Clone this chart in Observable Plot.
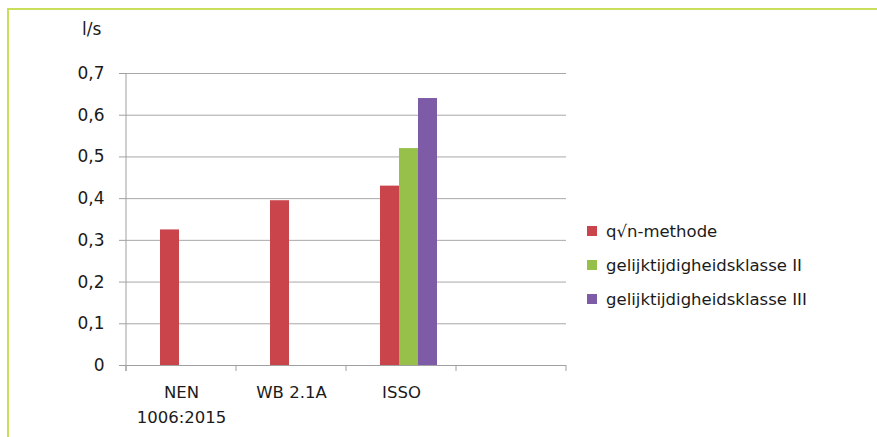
<!DOCTYPE html>
<html><head><meta charset="utf-8">
<script src="https://cdn.jsdelivr.net/npm/d3@7"></script>
<script src="https://cdn.jsdelivr.net/npm/@observablehq/plot@0.6"></script>
<style>
body{margin:0;background:#fff;}
#wrap{position:relative;width:877px;height:437px;overflow:hidden;font-family:"DejaVu Sans",sans-serif;color:#1a1a1a;}
#border{position:absolute;left:7px;top:8px;width:900px;height:500px;border-top:2px solid #c9de5a;border-left:2px solid #c9de5a;}
#chart{position:absolute;left:0;top:0;}
#unit{position:absolute;left:82px;top:19px;font-size:17px;}
#legend{position:absolute;left:587px;top:214px;font-size:16.5px;}
.row{display:flex;align-items:center;height:34px;}
.sw{width:10px;height:10px;margin-right:9px;}
</style></head>
<body><div id="wrap"><div id="border"></div><div id="chart"></div><div id="unit"></div><div id="legend"></div></div>
<script>
const categories = ["NEN\n1006:2015", "WB 2.1A", "ISSO", " "];
const series = ["q√n-methode", "gelijktijdigheidsklasse II", "gelijktijdigheidsklasse III"];
const colors = ["#c9444b", "#96c04a", "#7d5ba6"];
const nenValues = [0.325, null, null];
const wbValues = [0.395, null, null];
const issoValues = [0.43, 0.52, 0.64];
const emptyValues = [null, null, null];
const yTicks = [0, 0.1, 0.2, 0.3, 0.4, 0.5, 0.6, 0.7];
const unitLabel = "l/s";

const valuesByCategory = [nenValues, wbValues, issoValues, emptyValues];
const table = [];
categories.forEach((c, i) => series.forEach((s, j) => {
  table.push({category: c, series: s, value: valuesByCategory[i][j]});
}));
const fmt = d => d === 0 ? "0" : d.toFixed(1).replace(".", ",");

const chart = Plot.plot({
  width: 877, height: 437,
  marginLeft: 125, marginRight: 311, marginTop: 73, marginBottom: 72,
  style: {fontFamily: "DejaVu Sans", fontSize: "16px", color: "#1a1a1a", background: "transparent", overflow: "visible"},
  fx: {domain: categories, padding: 0, label: null},
  x: {domain: series, paddingInner: 0, paddingOuter: 1.27, align: 0.65, axis: null},
  y: {domain: [0, 0.7], label: null},
  color: {domain: series, range: colors},
  marks: [
    Plot.ruleY(yTicks.slice(1), {stroke: "#a8a8a8", strokeWidth: 1}),
    Plot.barY(table, {fx: "category", x: "series", y: "value", fill: "series"}),
    Plot.ruleY([0], {stroke: "#a0a0a0"}),
    Plot.axisY({ticks: yTicks, tickSize: 7, tickPadding: 15, tickFormat: fmt, fontSize: 17, stroke: "#a0a0a0"}),
    Plot.axisFx({anchor: "bottom", tickSize: 0, tickPadding: 15, fontSize: 16.5, lineHeight: 1.5, label: null})
  ]
});
document.getElementById("chart").appendChild(chart);

// axis line and category boundary ticks, positioned by Plot's scales
const fxs = chart.scale("fx"), ys = chart.scale("y");
const svg = d3.select(chart);
const y0 = ys.apply(0), yTop = ys.apply(0.7);
const bounds = categories.map(c => fxs.apply(c)).concat([fxs.apply(categories[categories.length - 1]) + fxs.bandwidth]);
svg.append("line").attr("x1", bounds[0]).attr("x2", bounds[0]).attr("y1", yTop).attr("y2", y0 + 6).attr("stroke", "#a0a0a0");
bounds.forEach(b => svg.append("line").attr("x1", b).attr("x2", b).attr("y1", y0).attr("y2", y0 + 6).attr("stroke", "#a0a0a0"));

document.getElementById("unit").textContent = unitLabel;
const legend = d3.select("#legend");
series.forEach((s, i) => {
  const r = legend.append("div").attr("class", "row");
  r.append("div").attr("class", "sw").style("background", colors[i]);
  r.append("span").text(s);
});
</script></body></html>
